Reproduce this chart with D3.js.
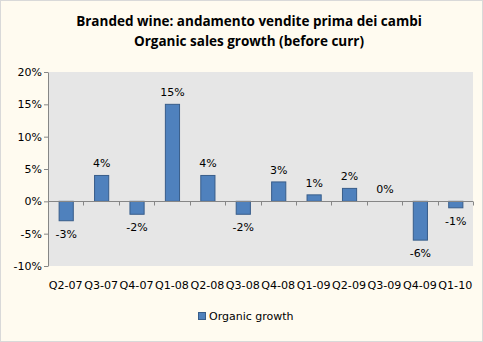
<!DOCTYPE html>
<html><head><meta charset="utf-8">
<script src="https://cdn.jsdelivr.net/npm/d3@7/dist/d3.min.js"></script>
<style>
html,body{margin:0;padding:0;background:#fff;}
svg{display:block;}
</style></head>
<body>
<script>
const categories = ["Q2-07","Q3-07","Q4-07","Q1-08","Q2-08","Q3-08","Q4-08","Q1-09","Q2-09","Q3-09","Q4-09","Q1-10"];
const organicGrowth = [-3,4,-2,15,4,-2,3,1,2,0,-6,-1];
const yTicks = [-10,-5,0,5,10,15,20];
const titleLines = ["Branded wine: andamento vendite prima dei cambi","Organic sales growth (before curr)"];
const seriesName = "Organic growth";

(function(){
const W = 483, H = 342;
const svg = d3.select("body").append("svg").attr("width", W).attr("height", H);
svg.append("rect").attr("x",0.5).attr("y",0.5).attr("width",W-1).attr("height",H-1)
  .attr("fill","#FFFBF0").attr("stroke","#D9D9D9");

const pL = 48, pR = 473, pT = 72, pB = 266;
const x = d3.scaleBand().domain(categories).range([pL, pR]).paddingInner(0.6).paddingOuter(0.3);
const xc = d3.scaleBand().domain(categories).range([pL, pR]);
const y = d3.scaleLinear().domain([-10, 20]).range([pB, pT]);

svg.append("rect").attr("x",pL).attr("y",pT).attr("width",pR-pL).attr("height",pB-pT).attr("fill","#E6E6E6");

const tickFont = "'DejaVu Sans', Verdana, sans-serif";
const yAxis = svg.append("g").attr("transform",`translate(${pL},0)`)
  .call(d3.axisLeft(y).tickValues(yTicks).tickSize(4).tickSizeOuter(0).tickFormat(d=>d+"%"));
yAxis.select(".domain").attr("stroke","#868686");
yAxis.selectAll(".tick line").attr("stroke","#868686");
yAxis.selectAll(".tick text").attr("fill","#000").attr("font-family",tickFont).attr("font-size",11).attr("x",-6);

svg.append("g").selectAll("rect").data(organicGrowth).join("rect")
  .attr("x",(d,i)=>x(categories[i])+0.5)
  .attr("y",d=>y(Math.max(0,d)))
  .attr("width",x.bandwidth())
  .attr("height",d=>Math.abs(y(d)-y(0)))
  .attr("fill","#4F81BD").attr("stroke","#385D8A").attr("stroke-width",1);

const zeroY = Math.round(y(0))+0.5;
svg.append("line").attr("x1",pL).attr("x2",pR).attr("y1",zeroY).attr("y2",zeroY).attr("stroke","#868686");
const boundaries = categories.map(c=>xc(c)).concat([pR]);
svg.append("g").selectAll("line").data(boundaries).join("line")
  .attr("x1",d=>Math.round(d)+0.5).attr("x2",d=>Math.round(d)+0.5)
  .attr("y1",zeroY).attr("y2",zeroY+4).attr("stroke","#868686");

svg.append("g").selectAll("text").data(organicGrowth).join("text")
  .attr("x",(d,i)=>x(categories[i])+x.bandwidth()/2+0.5)
  .attr("y",d=> d>=0 ? y(d)-8 : y(d)+17)
  .attr("text-anchor","middle").attr("font-family",tickFont).attr("font-size",11).attr("fill","#000")
  .text(d=>d+"%");

svg.append("g").selectAll("text").data(categories).join("text")
  .attr("x",d=>xc(d)+xc.bandwidth()/2)
  .attr("y",289)
  .attr("text-anchor","middle").attr("font-family",tickFont).attr("font-size",11).attr("fill","#000")
  .attr("textLength",34).attr("lengthAdjust","spacingAndGlyphs")
  .text(d=>d);

svg.append("g").selectAll("text").data(titleLines).join("text")
  .attr("x",249).attr("y",(d,i)=>26+i*20)
  .attr("text-anchor","middle").attr("font-family","'Open Sans', sans-serif").attr("font-weight","bold")
  .attr("font-size",13.5).attr("fill","#000").text(d=>d);

svg.append("rect").attr("x",198.5).attr("y",312.5).attr("width",7).attr("height",7)
  .attr("fill","#4F81BD").attr("stroke","#385D8A");
svg.append("text").attr("x",209).attr("y",320).attr("font-family",tickFont).attr("font-size",11)
  .attr("fill","#000").text(seriesName);
})();
</script>
</body></html>
